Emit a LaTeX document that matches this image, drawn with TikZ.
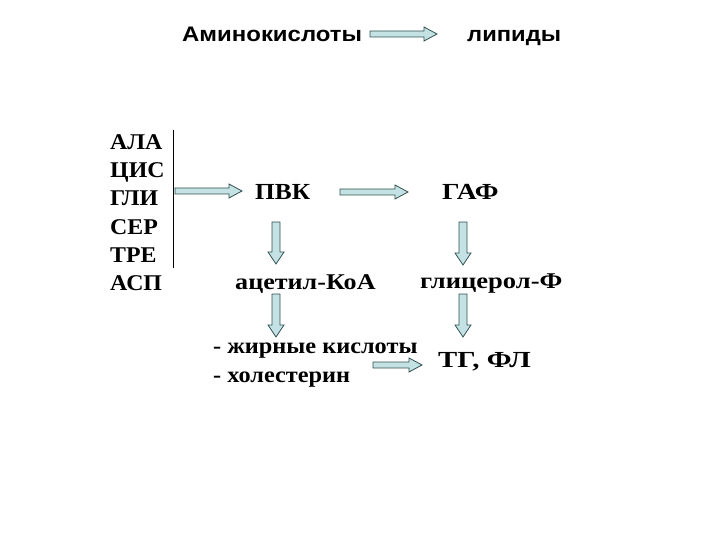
\documentclass[tikz,border=0pt]{standalone}
\usepackage{graphicx}
\usepackage{fontspec}
\setmainfont{Liberation Serif}
\setsansfont{Liberation Sans}
\usetikzlibrary{calc}
\definecolor{afill}{HTML}{C4E2E4}
\definecolor{aline}{HTML}{2F5050}
\tikzset{
  ser/.style={font=\fontsize{22.5}{28}\selectfont\bfseries, inner sep=0pt, anchor=base west},
  big/.style={ser, font=\fontsize{23}{27}\selectfont\bfseries},
  hdr/.style={font=\sffamily\fontsize{21}{25}\selectfont\bfseries, inner sep=0pt, anchor=base west},
  barrow/.style={draw=aline, fill=afill, line width=0.8pt, line join=miter}
}
\newcommand\sx[2]{\scalebox{#1}[1]{#2}}
% horizontal block arrow
\newcommand\harrow[2]{\draw[barrow] let \p1=(#1), \p2=(#2) in
  (\x1,\y1-3pt) -- (\x2-13pt,\y1-3pt) -- (\x2-13pt,\y1-7pt) -- (\x2,\y1)
  -- (\x2-13pt,\y1+7pt) -- (\x2-13pt,\y1+3pt) -- (\x1,\y1+3pt) -- cycle;}
% vertical (downward) block arrow
\newcommand\varrow[2]{\draw[barrow] let \p1=(#1), \p2=(#2) in
  (\x1-4pt,\y1) -- (\x1-4pt,\y2+12pt) -- (\x1-8pt,\y2+12pt) -- (\x1,\y2)
  -- (\x1+8pt,\y2+12pt) -- (\x1+4pt,\y2+12pt) -- (\x1+4pt,\y1) -- cycle;}
\begin{document}
\begin{tikzpicture}[x=1pt,y=-1pt]
\useasboundingbox (0,0) rectangle (720,540);
% header
\node[hdr] (amino) at (182,42) {\sx{1.14}{Аминокислоты}};
\node[hdr] (lip) at (467,42) {\sx{1.13}{липиды}};
\coordinate (a1s) at (370,34);
\coordinate (a1e) at (437,34);
\harrow{a1s}{a1e}
% list
\node[ser] (ala) at (110,150) {\sx{1.06}{АЛА}};
\node[ser] (cis) at (110,178) {\sx{1.06}{ЦИС}};
\node[ser] (gli) at (110,206) {\sx{1.06}{ГЛИ}};
\node[ser] (ser) at (110,234) {\sx{1.06}{СЕР}};
\node[ser] (tre) at (110,262) {\sx{1.06}{ТРЕ}};
\node[ser] (asp) at (110,290) {\sx{1.06}{АСП}};
\coordinate (vtop) at (173,130);
\coordinate (vbot) at (173,268);
\draw[line width=0.8pt] (vtop) -- (vbot);
% middle
\node[big] (pvk) at (255,200) {\sx{1.1}{ПВК}};
\node[big] (gaf) at (442,200) {\sx{1.2}{ГАФ}};
\node[ser] (acet) at (235,289) {\sx{1.16}{ацетил-КоА}};
\node[ser] (glic) at (420,288) {\sx{1.18}{глицерол-Ф}};
\node[ser] (fat) at (213,353) {\sx{1.08}{- жирные кислоты}};
\node[ser] (chol) at (213,382) {\sx{1.08}{- холестерин}};
\node[big] (tg) at (438,367) {\sx{1.25}{ТГ, ФЛ}};
% arrows
\coordinate (b1s) at (175,191);
\coordinate (b1e) at (242,191);
\harrow{b1s}{b1e}
\coordinate (b2s) at (340,192);
\coordinate (b2e) at (408,192);
\harrow{b2s}{b2e}
\coordinate (b3s) at (373,365);
\coordinate (b3e) at (422,365);
\harrow{b3s}{b3e}
\coordinate (c1s) at (276,222);
\coordinate (c1e) at (276,264);
\varrow{c1s}{c1e}
\coordinate (c2s) at (276,294);
\coordinate (c2e) at (276,337);
\varrow{c2s}{c2e}
\coordinate (c3s) at (463,222);
\coordinate (c3e) at (463,265);
\varrow{c3s}{c3e}
\coordinate (c4s) at (463,294);
\coordinate (c4e) at (463,337);
\varrow{c4s}{c4e}
\end{tikzpicture}
\end{document}
